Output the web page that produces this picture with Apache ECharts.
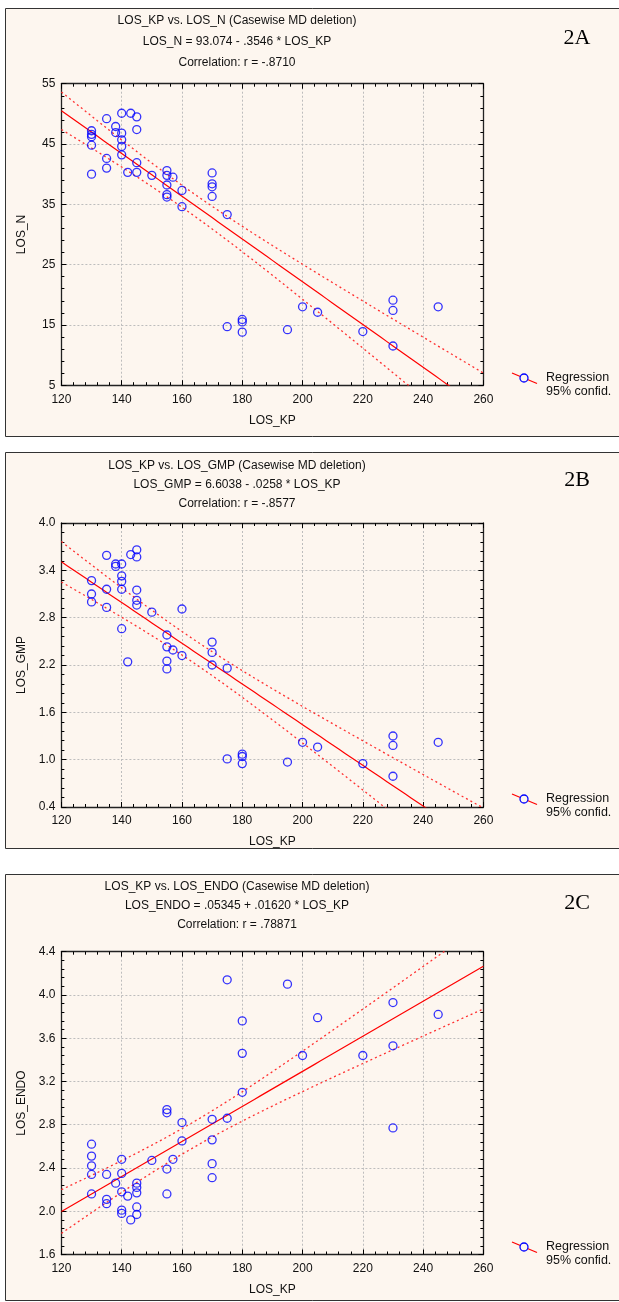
<!DOCTYPE html>
<html>
<head>
<meta charset="utf-8">
<script src="https://cdn.jsdelivr.net/npm/echarts@6/dist/echarts.min.js"></script>
<style>
  html, body { margin: 0; padding: 0; background: #fff; }
  #chart { width: 619px; height: 1302px; }
</style>
</head>
<body>
<div id="chart"></div>
<script>
// LOS_KP values (shared x) and the three outcome series
const xTicks = [120, 140, 160, 180, 200, 220, 240, 260];

const kpA = [130,130,130,130,130, 135,135,135, 138,138, 140,140,140,140,140, 142, 143,
  145,145,145,145, 150, 155,155,155,155,155, 157, 160,160, 170,170,170,170,
  175,175, 180,180,180, 195, 200, 205, 220, 230,230,230, 245];
const losN = [47.2,46.6,46.2,44.8,40.0, 49.2,42.6,41.0, 47.9,46.9, 50.1,46.8,45.7,44.6,43.2, 40.3, 50.1,
  49.5,47.4,41.9,40.3, 39.8, 40.6,39.8,38.2,36.6,36.2, 39.5, 37.3,34.6, 40.2,38.4,37.9,36.3,
  33.3,14.7, 15.9,15.5,13.8, 14.2, 18.0, 17.1, 13.9, 19.1,17.4,11.5, 18.0];

const kpB = [130,130,130, 135,135,135, 138,138, 140,140,140,140,140, 142, 143,
  145,145,145,145,145, 150, 155,155,155,155, 157, 160,160, 170,170,170,
  175,175, 180,180,180, 195, 200, 205, 220, 230,230,230, 245];
const losGMP = [3.27,3.10,3.00, 3.59,3.16,2.93, 3.48,3.45, 3.48,3.33,3.26,3.16,2.66, 2.24, 3.60,
  3.66,3.57,3.15,3.02,2.96, 2.87, 2.58,2.43,2.25,2.15, 2.39, 2.91,2.32, 2.49,2.36,2.20,
  2.16,1.01, 1.07,1.04,0.95, 0.97, 1.22, 1.16, 0.95, 1.30,1.18,0.79, 1.22];

const kpC = [130,130,130,130,130, 135,135,135, 138, 140,140,140,140,140, 142, 143,
  145,145,145,145,145, 150, 155,155,155,155, 157, 160,160, 170,170,170,170,
  175,175, 180,180,180, 195, 200, 205, 220, 230,230,230, 245];
const losENDO = [2.62,2.51,2.42,2.34,2.16, 2.34,2.11,2.07, 2.26, 2.48,2.35,2.18,2.01,1.98, 2.14, 1.92,
  2.26,2.22,2.17,2.04,1.97, 2.47, 2.94,2.91,2.39,2.16, 2.48, 2.82,2.65, 2.85,2.66,2.44,2.31,
  4.14,2.86, 3.76,3.46,3.10, 4.10, 3.44, 3.79, 3.44, 3.93,3.53,2.77, 3.82];

// regression coefficients as printed in the titles
const fitA = [93.074, -0.3546];
const fitB = [6.6038, -0.0258];
const fitC = [0.05345, 0.01620];

const panels = [
  { key: 'A', xs: kpA, ys: losN, fit: fitA, yName: 'LOS_N', yMin: 5, yMax: 55, yStep: 10, dec: 0,
    titles: ['LOS_KP vs. LOS_N (Casewise MD deletion)', 'LOS_N = 93.074 - .3546 * LOS_KP', 'Correlation: r = -.8710'],
    top: 83.7, height: 301.5, frameTop: 8.5, frameH: 428, titleY: [21, 42, 63], tagY: 38, legY: 378 },
  { key: 'B', xs: kpB, ys: losGMP, fit: fitB, yName: 'LOS_GMP', yMin: 0.4, yMax: 4.0, yStep: 0.6, dec: 1,
    titles: ['LOS_KP vs. LOS_GMP (Casewise MD deletion)', 'LOS_GMP = 6.6038 - .0258 * LOS_KP', 'Correlation: r = -.8577'],
    top: 523, height: 284, frameTop: 452.5, frameH: 396, titleY: [466, 485, 504], tagY: 480, legY: 799 },
  { key: 'C', xs: kpC, ys: losENDO, fit: fitC, yName: 'LOS_ENDO', yMin: 1.6, yMax: 4.4, yStep: 0.4, dec: 1,
    titles: ['LOS_KP vs. LOS_ENDO (Casewise MD deletion)', 'LOS_ENDO = .05345 + .01620 * LOS_KP', 'Correlation: r = .78871'],
    top: 951.7, height: 302.8, frameTop: 874.5, frameH: 426, titleY: [887, 906, 925], tagY: 903, legY: 1247 }
];

const LEFT = 61.4, WIDTH = 422;
const font = '"Liberation Sans", Arial, sans-serif';

// 95% confidence band for the mean, from the points and the printed line
function bands(xs, ys, fit) {
  const n = xs.length;
  const xbar = xs.reduce((a, b) => a + b, 0) / n;
  let sxx = 0, sse = 0;
  xs.forEach((x, i) => {
    sxx += (x - xbar) * (x - xbar);
    const r = ys[i] - (fit[0] + fit[1] * x);
    sse += r * r;
  });
  const s = Math.sqrt(sse / (n - 2));
  const t = 2.015;
  const line = [], up = [], lo = [];
  for (let x = 120; x <= 260; x += 2) {
    const yh = fit[0] + fit[1] * x;
    const hw = t * s * Math.sqrt(1 / n + (x - xbar) * (x - xbar) / sxx);
    line.push([x, yh]); up.push([x, yh + hw]); lo.push([x, yh - hw]);
  }
  return { line, up, lo };
}

const grid = [], xAxis = [], yAxis = [], series = [], graphic = [];

panels.forEach((p, gi) => {
  grid.push({ left: LEFT, top: p.top, width: WIDTH, height: p.height });
  const tickStyle = { show: true, inside: true, length: 5, lineStyle: { color: '#000' } };
  const minor = { show: true, splitNumber: 5, length: 3, lineStyle: { color: '#000' } };
  const axLine = { show: true, lineStyle: { color: '#222', width: 1.3 } };
  xAxis.push({
    gridIndex: gi, type: 'value', min: 120, max: 260, interval: 20, position: 'bottom',
    name: 'LOS_KP', nameLocation: 'middle', nameGap: 29,
    nameTextStyle: { fontFamily: font, fontSize: 12, color: '#111' },
    axisLine: axLine, axisTick: tickStyle, minorTick: minor,
    axisLabel: { fontFamily: font, fontSize: 12, color: '#111', margin: 8 },
    splitLine: { show: true, lineStyle: { color: '#bdbdbd', type: [2, 2] } }
  });
  xAxis.push({
    gridIndex: gi, type: 'value', min: 120, max: 260, interval: 20, position: 'top',
    axisLine: axLine, axisTick: tickStyle, minorTick: minor,
    axisLabel: { show: false }, splitLine: { show: false }
  });
  yAxis.push({
    gridIndex: gi, type: 'value', min: p.yMin, max: p.yMax, interval: p.yStep, position: 'left',
    name: p.yName, nameLocation: 'middle', nameGap: 34,
    nameTextStyle: { fontFamily: font, fontSize: 12, color: '#111' },
    axisLine: axLine, axisTick: tickStyle, minorTick: minor,
    axisLabel: { fontFamily: font, fontSize: 12, color: '#111', margin: 6,
      formatter: v => v.toFixed(p.dec) },
    splitLine: { show: true, lineStyle: { color: '#bdbdbd', type: [2, 2] } }
  });
  yAxis.push({
    gridIndex: gi, type: 'value', min: p.yMin, max: p.yMax, interval: p.yStep, position: 'right',
    axisLine: axLine, axisTick: tickStyle, minorTick: minor,
    axisLabel: { show: false }, splitLine: { show: false }
  });

  const b = bands(p.xs, p.ys, p.fit);
  const xi = gi * 2, yi = gi * 2;
  series.push({
    type: 'line', xAxisIndex: xi, yAxisIndex: yi, data: b.up, showSymbol: false, clip: true,
    lineStyle: { color: '#ff3030', width: 1.3, type: [2, 3] }, z: 3, silent: true
  });
  series.push({
    type: 'line', xAxisIndex: xi, yAxisIndex: yi, data: b.lo, showSymbol: false, clip: true,
    lineStyle: { color: '#ff3030', width: 1.3, type: [2, 3] }, z: 3, silent: true
  });
  series.push({
    type: 'line', xAxisIndex: xi, yAxisIndex: yi, data: b.line, showSymbol: false, clip: true,
    lineStyle: { color: '#ff0000', width: 1.2 }, z: 3, silent: true
  });
  series.push({
    type: 'scatter', xAxisIndex: xi, yAxisIndex: yi,
    data: p.xs.map((x, i) => [x, p.ys[i]]),
    symbol: 'circle', symbolSize: 8,
    itemStyle: { color: 'rgba(0,0,0,0)', borderColor: '#0000ff', borderWidth: 1.3 }, z: 4
  });

  // panel frame
  graphic.push({
    type: 'rect', z: -10, silent: true,
    shape: { x: 5.5, y: p.frameTop, width: 640, height: p.frameH },
    style: { fill: '#fdf6ef', stroke: '#333', lineWidth: 1 }
  });
  p.titles.forEach((t, k) => {
    graphic.push({
      type: 'text', z: 10, x: 237, y: p.titleY[k],
      style: { text: t, font: '12px ' + font, fill: '#111', textAlign: 'center', textVerticalAlign: 'middle' }
    });
  });
  graphic.push({
    type: 'text', z: 10, x: 577, y: p.tagY,
    style: { text: '2' + p.key, font: '22px "Liberation Serif", "Times New Roman", serif', fill: '#000',
      textAlign: 'center', textVerticalAlign: 'middle' }
  });
  // legend
  graphic.push({
    type: 'line', z: 10, shape: { x1: 512, y1: p.legY - 5, x2: 537, y2: p.legY + 5.5 },
    style: { stroke: '#ff0000', lineWidth: 1.2 }
  });
  graphic.push({
    type: 'circle', z: 11, shape: { cx: 524, cy: p.legY, r: 4 },
    style: { fill: '#fdf6ef', stroke: '#0000ff', lineWidth: 1.3 }
  });
  graphic.push({
    type: 'text', z: 10, x: 546, y: p.legY,
    style: { text: 'Regression', font: '12.5px ' + font, fill: '#111', textVerticalAlign: 'middle' }
  });
  graphic.push({
    type: 'text', z: 10, x: 546, y: p.legY + 14,
    style: { text: '95% confid.', font: '12.5px ' + font, fill: '#111', textVerticalAlign: 'middle' }
  });
});

const chart = echarts.init(document.getElementById('chart'), null, { renderer: 'canvas' });
chart.setOption({
  backgroundColor: '#ffffff',
  animation: false,
  grid, xAxis, yAxis, series, graphic
});
</script>
</body>
</html>
